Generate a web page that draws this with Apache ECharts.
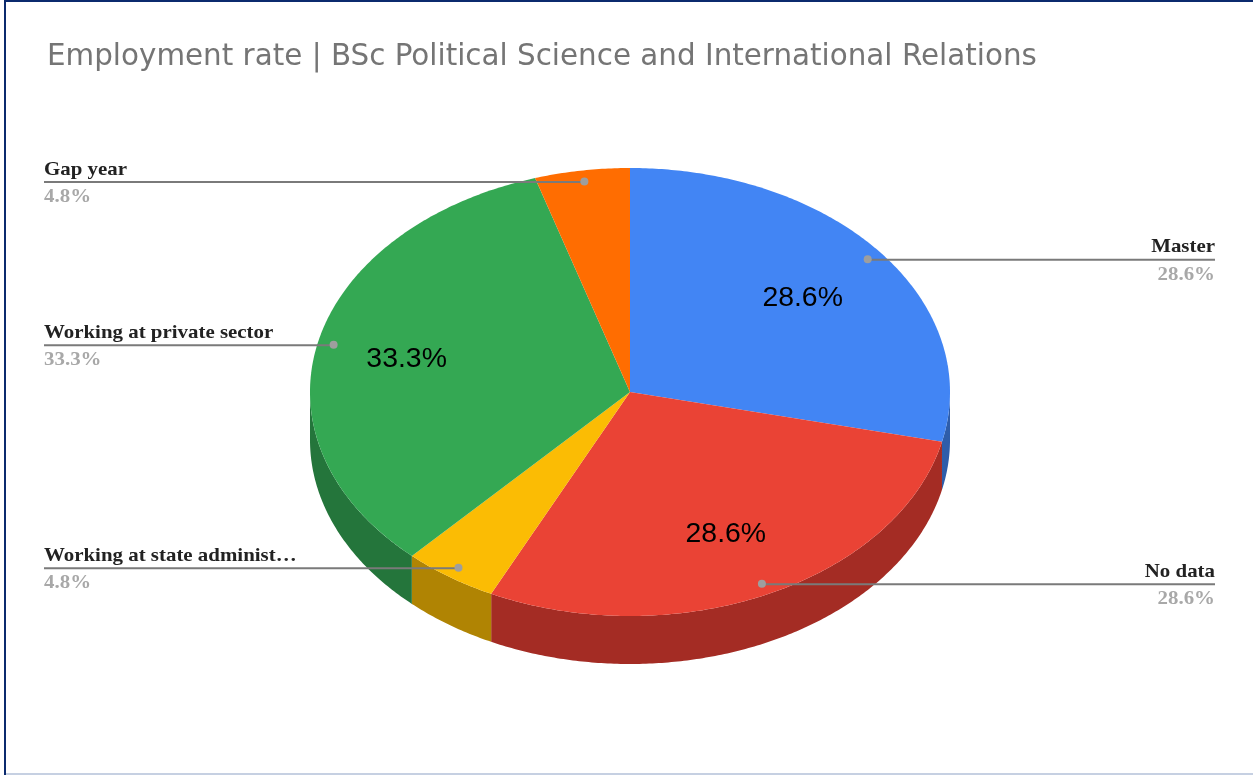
<!DOCTYPE html>
<html><head><meta charset="utf-8">
<style>html,body{margin:0;padding:0;background:#fff;overflow:hidden}#c{width:1253px;height:775px}</style>
<script src="https://cdn.jsdelivr.net/npm/echarts@6/dist/echarts.min.js"></script>
</head><body><div id="c"></div>
<script>
const categories = ['Master', 'No data', 'Working at state administ…', 'Working at private sector', 'Gap year'];
const shares = [28.6, 28.6, 4.8, 33.3, 4.8];
const topColors = ['#4285f4', '#ea4335', '#fbbc04', '#34a853', '#ff6d01'];
const wallColors = ['#2e5daa', '#a42c24', '#b08403', '#24753b', '#b34c01'];

const CX = 630, CY = 392, RX = 320, RY = 224, DEPTH = 48;
const LEFT_X = 44, RIGHT_X = 1215;
const NAME_STRETCH = 1.1;
const total = shares.reduce((a, b) => a + b, 0);
const angles = [];
shares.reduce((acc, v) => { const next = acc + v / total * 2 * Math.PI; angles.push([acc, next]); return next; }, -Math.PI / 2);
const pt = (a, f, dy) => [CX + RX * f * Math.cos(a), CY + RY * f * Math.sin(a) + (dy || 0)];
function arc(a0, a1, dy) {
  const n = Math.max(2, Math.ceil((a1 - a0) / 0.01)), out = [];
  for (let i = 0; i <= n; i++) out.push(pt(a0 + (a1 - a0) * i / n, 1, dy));
  return out;
}
const dataIdx = categories.map((_, i) => [i, shares[i]]);

function renderWall(params, api) {
  const i = api.value(0), [a0, a1] = angles[i];
  const parts = [];
  // Only the front half of the rim (0..PI, also PI*2..PI*3) is visible.
  [[0, Math.PI], [2 * Math.PI, 3 * Math.PI]].forEach(([lo, hi]) => {
    const s = Math.max(a0, lo), e = Math.min(a1, hi);
    if (e > s) parts.push({
      type: 'polygon',
      shape: { points: arc(s, e, 0).concat(arc(s, e, DEPTH).reverse()) },
      style: { fill: wallColors[i] }
    });
  });
  return { type: 'group', children: parts };
}
function renderTop(params, api) {
  const i = api.value(0), [a0, a1] = angles[i];
  return {
    type: 'polygon',
    shape: { points: [[CX, CY]].concat(arc(a0, a1, 0)) },
    style: { fill: topColors[i] }
  };
}
function renderLabel(params, api) {
  const i = api.value(0), [a0, a1] = angles[i], mid = (a0 + a1) / 2;
  const dot = pt(mid, 0.95), right = Math.cos(mid) > 0;
  const x = right ? RIGHT_X : LEFT_X, share = api.value(1) / total;
  const kids = [
    { type: 'line', shape: { x1: x, y1: dot[1] + 0.5, x2: dot[0], y2: dot[1] + 0.5 },
      style: { stroke: '#7a7a7a', lineWidth: 2 } },
    { type: 'circle', shape: { cx: dot[0], cy: dot[1], r: 4 }, style: { fill: '#9e9e9e' } },
    { type: 'text', x: x, y: dot[1] - 2.5, scaleX: NAME_STRETCH,
      style: { text: categories[i], x: 0, fill: '#222222', font: 'bold 19px "Liberation Serif"',
        align: right ? 'right' : 'left', verticalAlign: 'bottom' } },
    { type: 'text', x: x, y: dot[1] + 6, scaleX: NAME_STRETCH,
      style: { text: api.value(1).toFixed(1) + '%', x: 0, fill: '#a8a8a8', font: 'bold 19px "Liberation Serif"',
        align: right ? 'right' : 'left', verticalAlign: 'top' } }
  ];
  if (share > 0.1) {
    const f = share > 0.3 ? 0.716 : 0.69, c = pt(mid, f, 2.5);
    kids.push({ type: 'text', x: c[0], y: c[1],
      style: { text: api.value(1).toFixed(1) + '%', fill: '#000000', font: '28.4px "Liberation Sans"',
        align: 'center', verticalAlign: 'middle' } });
  }
  return { type: 'group', children: kids };
}

const chart = echarts.init(document.getElementById('c'), null, { renderer: 'canvas' });
chart.setOption({
  animation: false,
  backgroundColor: '#ffffff',
  title: {
    text: 'Employment rate | BSc Political Science and International Relations',
    left: 47, top: 43, padding: 0,
    textStyle: { fontFamily: 'DejaVu Sans', fontWeight: 'normal', fontSize: 29.4, color: '#757575' }
  },
  graphic: [
    { type: 'rect', shape: { x: 4, y: 0, width: 1249, height: 2 }, style: { fill: '#0b2a6e' } },
    { type: 'rect', shape: { x: 4, y: 0, width: 2, height: 775 }, style: { fill: '#0b2a6e' } },
    { type: 'rect', shape: { x: 6, y: 773, width: 1247, height: 2 }, style: { fill: '#c6d0e2' } }
  ],
  series: [
    { type: 'custom', coordinateSystem: 'none', z: 2, data: dataIdx, renderItem: renderWall, silent: true },
    { type: 'custom', coordinateSystem: 'none', z: 3, data: dataIdx, renderItem: renderTop, silent: true },
    { type: 'custom', coordinateSystem: 'none', z: 4, data: dataIdx, renderItem: renderLabel, silent: true }
  ]
});
</script></body></html>
